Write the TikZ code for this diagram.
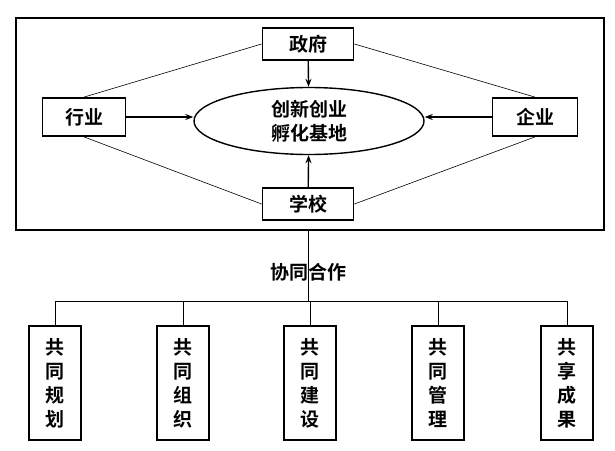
\documentclass[tikz,border=0pt]{standalone}
\usepackage{fontspec}
\newfontfamily\cjk{Noto Sans CJK SC}[BoldFont={Noto Sans CJK SC Bold}]
\usetikzlibrary{shapes.geometric,arrows.meta}
\begin{document}
\begin{tikzpicture}[x=1pt,y=-1pt,
  txt/.style={font=\cjk\bfseries\fontsize{19}{24}\selectfont},
  box/.style={draw,line width=1.8pt,inner sep=0pt,txt},
  vbox/.style={box,minimum width=52pt,minimum height=114pt,align=center},
  thin/.style={line width=0.6pt},
  arr/.style={line width=1.4pt,-{Stealth[length=8pt,width=6pt]}}]
\useasboundingbox (0,0) rectangle (615,450);
\node[draw,line width=1.8pt,minimum width=588pt,minimum height=212pt,inner sep=0pt] (outer) at (310,124) {};
\node[box,minimum width=91pt,minimum height=32pt] (zf) at (308,44) {政府};
\node[box,minimum width=83pt,minimum height=38pt] (hy) at (84,117) {行业};
\node[box,minimum width=85pt,minimum height=38pt] (qy) at (535,117) {企业};
\node[box,minimum width=91pt,minimum height=32pt] (xx) at (308,204) {学校};
\node[ellipse,draw,line width=1.4pt,minimum width=230pt,minimum height=67pt,inner sep=0pt,txt,align=center] (base) at (309,121) {创新创业\\孵化基地};
\draw[arr] (zf) -- (base);
\draw[arr] (xx) -- (base);
\draw[arr] (hy.east) -- (base.west |- hy.east);
\draw[arr] (qy.west) -- (base.east |- qy.west);
\draw[thin] (zf.west) -- (hy.north);
\draw[thin] (zf.east) -- (qy.north);
\draw[thin] (hy.south) -- (xx.west);
\draw[thin] (qy.south) -- (xx.east);
% bottom
\coordinate (bus) at (308,301);
\node[vbox] (b1) at (55,383) {共\\同\\规\\划};
\node[vbox] (b2) at (183,383) {共\\同\\组\\织};
\node[vbox] (b3) at (310,383) {共\\同\\建\\设};
\node[vbox] (b4) at (438,383) {共\\同\\管\\理};
\node[vbox] (b5) at (567,383) {共\\享\\成\\果};
\draw[thin] (outer.south -| bus) -- (bus);
\node[txt] (lab) at (308,272) {协同合作};
\draw[thin] (b1.north) -- (b1.north |- bus) -- (b5.north |- bus) -- (b5.north);
\foreach \b in {b2,b3,b4} \draw[thin] (\b.north) -- (\b.north |- bus);
\end{tikzpicture}
\end{document}
